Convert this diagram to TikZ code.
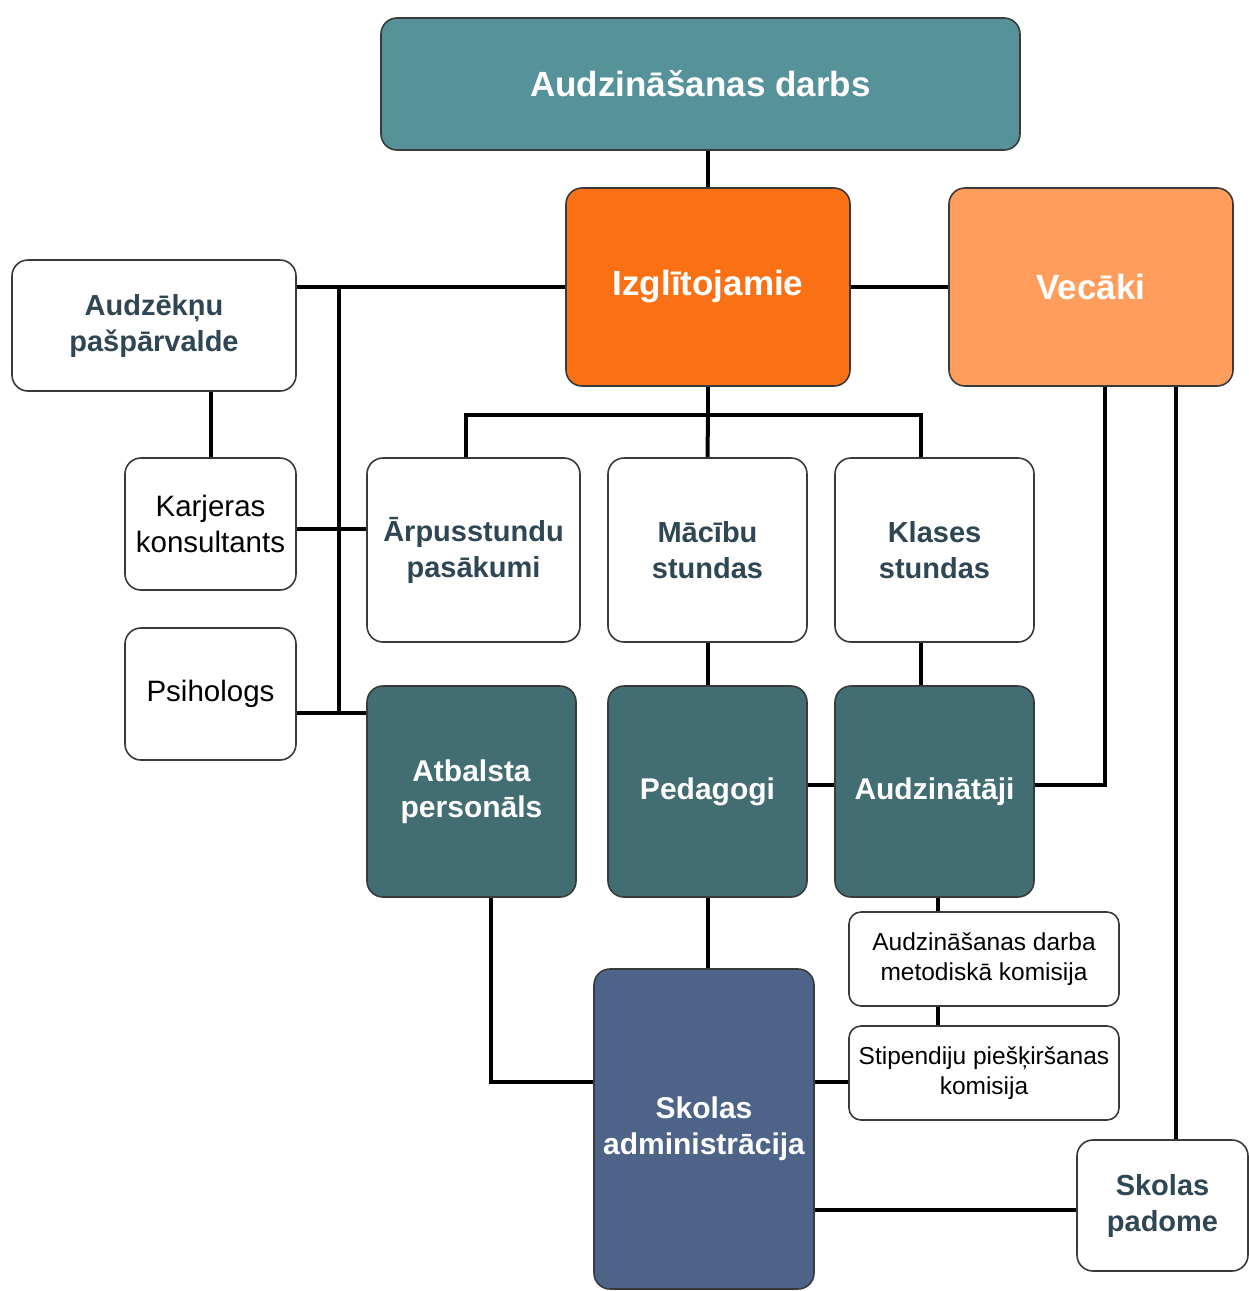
\documentclass[tikz,border=0pt]{standalone}
\usepackage{fontspec}
\setmainfont{Liberation Sans}
\usetikzlibrary{calc}
\definecolor{titlefill}{HTML}{56929A}
\definecolor{izgfill}{HTML}{FA7014}
\definecolor{vecfill}{HTML}{FF9E5C}
\definecolor{tealfill}{HTML}{426D72}
\definecolor{admfill}{HTML}{4D6488}
\definecolor{slate}{HTML}{2F4754}
\definecolor{edge}{HTML}{3A3A3A}
\tikzset{
  box/.style={draw=edge, line width=1.6pt, rounded corners=16pt, inner sep=0pt, align=center},
  wbold/.style={box, fill=white, text=slate, font=\fontsize{29}{36}\selectfont\bfseries},
  wreg/.style={box, fill=white, text=black, font=\fontsize{29.5}{36}\selectfont},
  wsmall/.style={box, fill=white, text=black, rounded corners=12pt, font=\fontsize{24.5}{30}\selectfont},
  cbox/.style={box, text=white, font=\fontsize{30}{36}\selectfont\bfseries},
  bigbox/.style={box, text=white, font=\fontsize{35}{40}\selectfont\bfseries},
  link/.style={line width=4pt, black}
}
\begin{document}
\begin{tikzpicture}[x=1pt,y=-1pt]
\useasboundingbox[fill=white] (0,0) rectangle (1249,1291);
% nodes
\node[bigbox, fill=titlefill, minimum width=639pt, minimum height=132pt] (title) at (700.5,84) {Audzināšanas darbs};
\node[bigbox, fill=izgfill, minimum width=284pt, minimum height=198pt] (izg) at (708,287) {Izglītojamie};
\node[bigbox, fill=vecfill, minimum width=284pt, minimum height=198pt] (vec) at (1091,287) {Vecāki};
\node[wbold, minimum width=284pt, minimum height=131pt] (aud) at (154,325.5) {Audzēkņu\\pašpārvalde};
\node[wreg, minimum width=171pt, minimum height=132pt] (kar) at (210.5,524) {Karjeras\\konsultants};
\node[wreg, minimum width=171pt, minimum height=132pt] (psi) at (210.5,694) {Psihologs};
\node[wbold, minimum width=213pt, minimum height=184pt] (arp) at (473.5,550) {Ārpusstundu\\pasākumi};
\node[wbold, minimum width=199pt, minimum height=184pt] (mac) at (707.5,550) {Mācību\\stundas};
\node[wbold, minimum width=199pt, minimum height=184pt] (kla) at (934.5,550) {Klases\\stundas};
\node[cbox, fill=tealfill, minimum width=209pt, minimum height=211pt] (atb) at (471.5,791.5) {Atbalsta\\personāls};
\node[cbox, fill=tealfill, minimum width=199pt, minimum height=211pt] (ped) at (707.5,791.5) {Pedagogi};
\node[cbox, fill=tealfill, minimum width=199pt, minimum height=211pt] (auz) at (934.5,791.5) {Audzinātāji};
\node[wsmall, minimum width=270pt, minimum height=94pt] (met) at (984,959) {Audzināšanas darba\\metodiskā komisija};
\node[wsmall, minimum width=270pt, minimum height=94pt] (sti) at (984,1073) {Stipendiju piešķiršanas\\komisija};
\node[cbox, fill=admfill, minimum width=220pt, minimum height=320pt] (adm) at (704,1129) {Skolas\\administrācija};
\node[wbold, minimum width=171pt, minimum height=131pt] (pad) at (1162.5,1205.5) {Skolas\\padome};
% helper coordinates
\coordinate (busL) at (339,288);
\coordinate (busT) at (708,415);
\coordinate (psiJ) at ([yshift=-19pt]psi.east);
\coordinate (karJ) at ([yshift=-5pt]kar.east);
\coordinate (arpJ) at ([xshift=-8pt]arp.north);
\coordinate (klaJ) at ([xshift=-14pt]kla.north);
\coordinate (klaB) at ([xshift=-14pt]kla.south);
\coordinate (pedJ) at ([yshift=7pt]ped.east);
\coordinate (auzJ) at ([yshift=7pt]auz.east);
\coordinate (vecA) at ([xshift=14pt]vec.south);
\coordinate (vecB) at ([xshift=85pt]vec.south);
\coordinate (auzB) at ([xshift=3.5pt]auz.south);
\coordinate (stiJ) at ([yshift=-9pt]sti.west);
\coordinate (atbB) at ([xshift=19.5pt]atb.south);
\coordinate (padJ) at ([yshift=-4.5pt]pad.west);
% connectors
\draw[link] (izg.north) -- (izg.north |- title.south);
\draw[link] (izg.west) -- (izg.west -| aud.east);
\draw[link] (busL) -- (busL |- psiJ);
\draw[link] (karJ) -- (karJ -| arp.west);
\draw[link] (psiJ) -- (psiJ -| atb.west);
\draw[link] (kar.north) -- (kar.north |- aud.south);
\draw[link] (izg.east) -- (vec.west);
\draw[link] (izg.south) -- (busT);
\draw[link] (arpJ) |- (busT) -| (klaJ);
\draw[link] (busT) -- (mac.north);
\draw[link] (mac.south) -- (ped.north);
\draw[link] (klaB) -- (klaB |- auz.north);
\draw[link] (pedJ) -- (pedJ -| auz.west);
\draw[link] (vecA) |- (auzJ);
\draw[link] (vecB) -- (vecB |- pad.north);
\draw[link] (auzB) -- (auzB |- met.north);
\draw[link] (auzB |- met.south) -- (auzB |- sti.north);
\draw[link] (stiJ) -- (stiJ -| adm.east);
\draw[link] (atbB) |- (stiJ -| adm.west);
\draw[link] (ped.south) -- (ped.south |- adm.north);
\draw[link] (padJ) -- (padJ -| adm.east);
\end{tikzpicture}
\end{document}
